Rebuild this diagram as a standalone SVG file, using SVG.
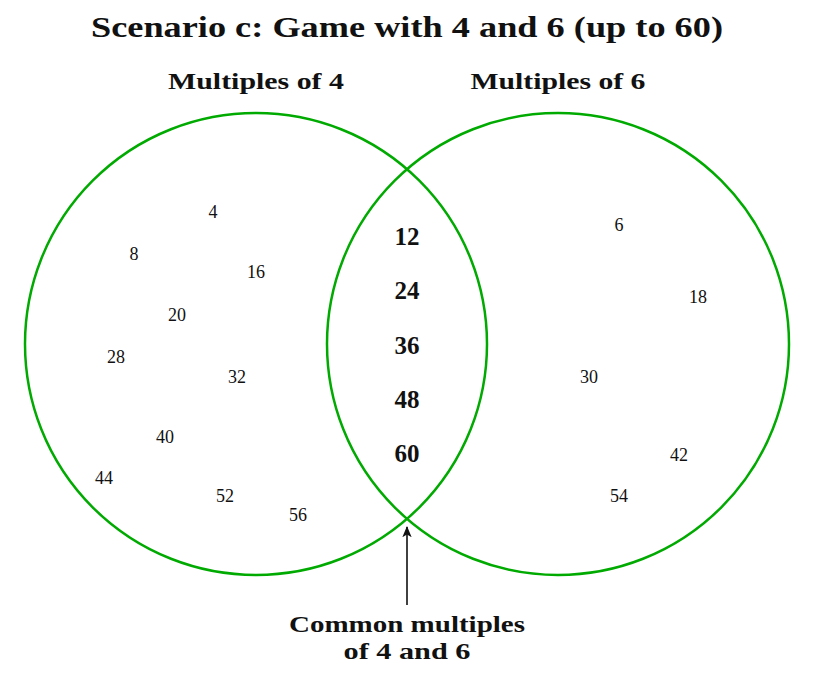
<svg xmlns="http://www.w3.org/2000/svg" width="815" height="689" viewBox="0 0 815 689">
<defs>
<style>
text{font-family:"Liberation Serif","DejaVu Serif",serif;fill:#111;text-anchor:middle}
.title{font-size:29px;font-weight:bold}
.set{font-size:23px;font-weight:bold}
.n{font-size:18px}
.c{font-size:25px;font-weight:bold}
.lab{font-size:23px;font-weight:bold}
.circ{fill:none;stroke:#00AA00;stroke-width:2.5}
</style>
<marker id="ah" viewBox="0 0 12 10" refX="11" refY="5" markerWidth="7" markerHeight="6" orient="auto"><path d="M0,0 L12,5 L0,10 L3,5 z" fill="#111"/></marker>
</defs>
<rect width="815" height="689" fill="#fff"/>
<text class="title" x="407" y="37" textLength="632" lengthAdjust="spacingAndGlyphs">Scenario c: Game with 4 and 6 (up to 60)</text>
<g id="setA">
<circle class="circ" cx="256" cy="344" r="231"/>
<text class="set" x="256" y="89" textLength="176" lengthAdjust="spacingAndGlyphs">Multiples of 4</text>
<text class="n" x="213" y="218">4</text>
<text class="n" x="134" y="260">8</text>
<text class="n" x="256" y="278">16</text>
<text class="n" x="177" y="321">20</text>
<text class="n" x="116" y="363">28</text>
<text class="n" x="237" y="383">32</text>
<text class="n" x="165" y="443">40</text>
<text class="n" x="104" y="484">44</text>
<text class="n" x="225" y="502">52</text>
<text class="n" x="298" y="521">56</text>
</g>
<g id="setB">
<circle class="circ" cx="558" cy="344" r="231"/>
<text class="set" x="558" y="89" textLength="175" lengthAdjust="spacingAndGlyphs">Multiples of 6</text>
<text class="n" x="619" y="231">6</text>
<text class="n" x="698" y="303">18</text>
<text class="n" x="589" y="383">30</text>
<text class="n" x="679" y="461">42</text>
<text class="n" x="619" y="502">54</text>
</g>
<g id="common">
<text class="c" x="407" y="245">12</text>
<text class="c" x="407" y="299">24</text>
<text class="c" x="407" y="354">36</text>
<text class="c" x="407" y="408">48</text>
<text class="c" x="407" y="462">60</text>
</g>
<g id="connectors">
<line x1="407" y1="605" x2="407" y2="527" stroke="#111" stroke-width="1.6" marker-end="url(#ah)"/>
</g>
<g id="label">
<text class="lab" x="407" y="632" textLength="236" lengthAdjust="spacingAndGlyphs">Common multiples</text>
<text class="lab" x="407" y="659" textLength="127" lengthAdjust="spacingAndGlyphs">of 4 and 6</text>
</g>
</svg>
